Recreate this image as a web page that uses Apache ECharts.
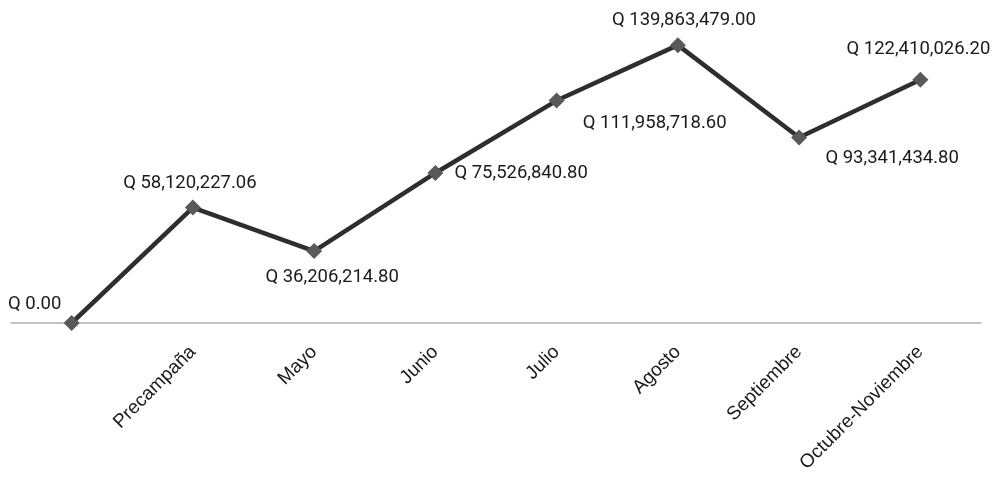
<!DOCTYPE html>
<html><head><meta charset="utf-8">
<script src="https://cdn.jsdelivr.net/npm/echarts@6/dist/echarts.min.js"></script>
<style>html,body{margin:0;padding:0;background:#fff}#c{width:995px;height:479px}</style>
</head><body><div id="c"></div>
<script>
const categories = ["", "Precampaña", "Mayo", "Junio", "Julio", "Agosto", "Septiembre", "Octubre-Noviembre"];
const values = [0, 58120227.06, 36206214.80, 75526840.80, 111958718.60, 139863479.00, 93341434.80, 122410026.20];
const labelPlacement = [
  {position: 'top', offset: [-37, 4]},
  {position: 'top', offset: [-3, -2]},
  {position: 'bottom', offset: [18, 4]},
  {position: 'right', offset: [6, 0]},
  {position: 'bottom', offset: [98, 0]},
  {position: 'top', offset: [6, -2]},
  {position: 'bottom', offset: [93, -2]},
  {position: 'top', offset: [-2, -8]}
];
function fmt(v){
  const parts = v.toFixed(2).split('.');
  parts[0] = parts[0].replace(/\B(?=(\d{3})+(?!\d))/g, ',');
  return 'Q ' + parts.join('.');
}
const chart = echarts.init(document.getElementById('c'));
chart.setOption({
  animation: false,
  grid: {left: 11, right: 14, top: 25, bottom: 156, containLabel: false},
  xAxis: {
    type: 'category', data: categories, boundaryGap: true,
    axisLine: {lineStyle: {color: '#b0b0b0', width: 1.5}},
    axisTick: {show: false},
    axisLabel: {rotate: 45, margin: 26, color: '#1a1a1a', fontFamily: 'Liberation Sans', fontSize: 19, interval: 0}
  },
  yAxis: {type: 'value', min: 0, max: 150000000, show: false, splitLine: {show: false}},
  series: [{
    type: 'line',
    data: values.map((v, i) => ({value: v, label: Object.assign({}, labelPlacement[i])})),
    symbol: 'diamond', symbolSize: 16,
    itemStyle: {color: '#595959'},
    lineStyle: {color: '#2e2e2e', width: 4.5},
    label: {show: true, formatter: p => fmt(p.value), color: '#1a1a1a', fontFamily: 'Roboto', fontSize: 18.5}
  }]
});
</script></body></html>
